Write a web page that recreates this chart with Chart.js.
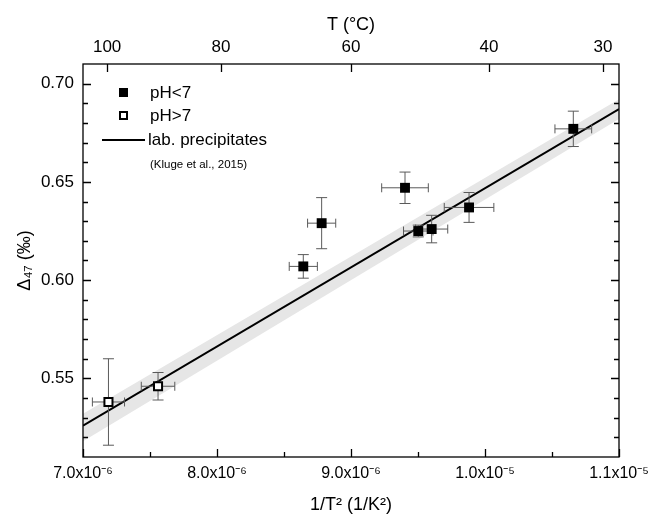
<!DOCTYPE html>
<html>
<head>
<meta charset="utf-8">
<script src="https://cdn.jsdelivr.net/npm/chart.js@4.4.1/dist/chart.umd.min.js"></script>
<style>
  html, body { margin: 0; padding: 0; background: #fff; }
  #wrap { width: 652px; height: 519px; }
</style>
</head>
<body>
<div id="wrap"><canvas id="chart"></canvas></div>
<script>
// samples with pH < 7 (filled squares)
const invT2Acid = [8.644e-6, 8.781e-6, 9.403e-6, 9.502e-6, 9.602e-6, 9.881e-6, 1.0659e-5];
const d47Acid   = [0.607, 0.629, 0.647, 0.625, 0.626, 0.637, 0.677];
const xErrAcid  = [1.05e-7, 1.05e-7, 1.74e-7, 1.1e-7, 1.2e-7, 1.85e-7, 1.37e-7];
const yErrAcid  = [0.006, 0.013, 0.008, 0.003, 0.007, 0.0076, 0.009];

// samples with pH > 7 (open squares)
const invT2Base = [7.19e-6, 7.56e-6];
const d47Base   = [0.538, 0.546];
const xErrBase  = [1.2e-7, 1.25e-7];
const yErrBase  = [0.022, 0.007];

// lab precipitates calibration (Kluge et al., 2015) and its band
const lineX     = [7.0e-6, 1.1e-5];
const lineY     = [0.526, 0.687];
const bandUpper = [0.532, 0.692];
const bandLower = [0.518, 0.682];

// axes
const xTicks = [7.0e-6, 8.0e-6, 9.0e-6, 1.0e-5, 1.1e-5];
const xTickLabels = ["7.0x10\u207B\u2076", "8.0x10\u207B\u2076", "9.0x10\u207B\u2076", "1.0x10\u207B\u2075", "1.1x10\u207B\u2075"];
const yTicks = [0.55, 0.60, 0.65, 0.70];
const topTicks = [7.18e-6, 8.03e-6, 9.0e-6, 1.003e-5, 1.088e-5];
const topTickLabels = ["100", "80", "60", "40", "30"];

const FONT = "'Liberation Sans', Arial, sans-serif";

const toPts = (xs, ys) => xs.map((x, i) => ({ x: x, y: ys[i] }));

// error bars go in after the line, before the squares
const errorBars = {
  id: "errorBars",
  afterDatasetDraw(chart, args) {
    if (args.index !== 2) return;
    const ctx = chart.ctx;
    const xs = chart.scales.x, ys = chart.scales.y;
    const groups = [
      [invT2Acid, d47Acid, xErrAcid, yErrAcid],
      [invT2Base, d47Base, xErrBase, yErrBase]
    ];
    ctx.save();
    ctx.strokeStyle = "#5a5a5a";
    ctx.lineWidth = 1;
    groups.forEach(([gx, gy, ex, ey]) => {
      gx.forEach((x, i) => {
        const px = xs.getPixelForValue(x), py = ys.getPixelForValue(gy[i]);
        const x0 = xs.getPixelForValue(x - ex[i]), x1 = xs.getPixelForValue(x + ex[i]);
        const y0 = ys.getPixelForValue(gy[i] + ey[i]), y1 = ys.getPixelForValue(gy[i] - ey[i]);
        ctx.beginPath();
        ctx.moveTo(x0, py); ctx.lineTo(x1, py);
        ctx.moveTo(x0, py - 4.5); ctx.lineTo(x0, py + 4.5);
        ctx.moveTo(x1, py - 4.5); ctx.lineTo(x1, py + 4.5);
        ctx.moveTo(px, y0); ctx.lineTo(px, y1);
        ctx.moveTo(px - 5.5, y0); ctx.lineTo(px + 5.5, y0);
        ctx.moveTo(px - 5.5, y1); ctx.lineTo(px + 5.5, y1);
        ctx.stroke();
      });
    });
    ctx.restore();
  }
};

// frame, inward ticks and the legend
const frame = {
  id: "frame",
  afterDraw(chart) {
    const ctx = chart.ctx;
    const a = chart.chartArea;
    const xs = chart.scales.x, ys = chart.scales.y;
    ctx.save();
    ctx.strokeStyle = "#000";
    ctx.lineWidth = 1.3;
    ctx.strokeRect(a.left, a.top, a.right - a.left, a.bottom - a.top);

    ctx.beginPath();
    for (let v = 0.52; v < 0.705; v += 0.01) {
      const major = yTicks.some(t => Math.abs(t - v) < 1e-6);
      const len = major ? 8 : 5;
      const py = Math.round(ys.getPixelForValue(v)) + 0.5;
      ctx.moveTo(a.left, py); ctx.lineTo(a.left + len, py);
      ctx.moveTo(a.right, py); ctx.lineTo(a.right - len, py);
    }
    for (let v = 7.5e-6; v < 1.1e-5; v += 1e-6) {
      const px = Math.round(xs.getPixelForValue(v)) + 0.5;
      ctx.moveTo(px, a.bottom); ctx.lineTo(px, a.bottom - 5);
    }
    xTicks.forEach(v => {
      const px = Math.round(xs.getPixelForValue(v)) + 0.5;
      ctx.moveTo(px, a.bottom); ctx.lineTo(px, a.bottom - 8);
    });
    topTicks.forEach(v => {
      const px = Math.round(xs.getPixelForValue(v)) + 0.5;
      ctx.moveTo(px, a.top); ctx.lineTo(px, a.top + 8);
    });
    ctx.stroke();

    // legend
    const lx = a.left, ly = a.top;
    ctx.fillStyle = "#000";
    ctx.fillRect(lx + 36, ly + 24, 9, 9);
    ctx.lineWidth = 2;
    ctx.strokeRect(lx + 37, ly + 48, 7, 7);
    ctx.beginPath();
    ctx.moveTo(lx + 19, ly + 76); ctx.lineTo(lx + 62, ly + 76);
    ctx.stroke();
    ctx.font = "17px " + FONT;
    ctx.textBaseline = "middle";
    ctx.textAlign = "left";
    ctx.fillText("pH<7", lx + 67, ly + 29);
    ctx.fillText("pH>7", lx + 67, ly + 52);
    ctx.fillText("lab. precipitates", lx + 65, ly + 76);
    ctx.font = "11.5px " + FONT;
    ctx.fillText("(Kluge et al., 2015)", lx + 67, ly + 101);
    ctx.restore();
  }
};

new Chart(document.getElementById("chart"), {
  type: "scatter",
  data: {
    datasets: [
      {
        label: "pH<7",
        data: toPts(invT2Acid, d47Acid),
        pointStyle: "rect",
        pointRadius: 7,
        backgroundColor: "#000",
        borderColor: "#000",
        borderWidth: 0
      },
      {
        label: "pH>7",
        data: toPts(invT2Base, d47Base),
        pointStyle: "rect",
        pointRadius: 5.7,
        backgroundColor: "#fff",
        borderColor: "#000",
        borderWidth: 2
      },
      {
        type: "line",
        label: "lab. precipitates",
        data: toPts(lineX, lineY),
        borderColor: "#000",
        borderWidth: 2,
        pointRadius: 0,
        fill: false
      },
      {
        type: "line",
        label: "band upper",
        data: toPts(lineX, bandUpper),
        borderWidth: 0,
        borderColor: "rgba(0,0,0,0)",
        pointRadius: 0,
        backgroundColor: "#e6e6e6",
        fill: "+1"
      },
      {
        type: "line",
        label: "band lower",
        data: toPts(lineX, bandLower),
        borderWidth: 0,
        borderColor: "rgba(0,0,0,0)",
        pointRadius: 0,
        fill: false
      }
    ]
  },
  options: {
    responsive: true,
    maintainAspectRatio: false,
    animation: false,
    layout: { padding: { left: 0, right: 33, top: 0, bottom: 0 } },
    plugins: {
      legend: { display: false },
      tooltip: { enabled: false }
    },
    scales: {
      x: {
        type: "linear",
        position: "bottom",
        min: 7.0e-6,
        max: 1.1e-5,
        afterBuildTicks: s => { s.ticks = xTicks.map(v => ({ value: v })); },
        afterFit: s => { s.height = 62; s.paddingLeft = 0; s.paddingRight = 0; },
        grid: { display: false, drawTicks: false },
        border: { display: false },
        ticks: {
          callback: (v, i) => xTickLabels[i],
          color: "#000",
          font: { size: 16, family: FONT },
          padding: 7,
          maxRotation: 0,
          autoSkip: false
        },
        title: {
          display: true,
          text: "1/T\u00B2 (1/K\u00B2)",
          color: "#000",
          font: { size: 18, family: FONT },
          padding: { top: 0, bottom: 3 }
        }
      },
      x2: {
        type: "linear",
        position: "top",
        min: 7.0e-6,
        max: 1.1e-5,
        afterBuildTicks: s => { s.ticks = topTicks.map(v => ({ value: v })); },
        afterFit: s => { s.height = 64; s.paddingLeft = 0; s.paddingRight = 0; },
        grid: { display: false, drawTicks: false },
        border: { display: false },
        ticks: {
          callback: (v, i) => topTickLabels[i],
          color: "#000",
          font: { size: 17, family: FONT },
          padding: 6,
          maxRotation: 0,
          autoSkip: false
        },
        title: {
          display: true,
          text: "T (\u00B0C)",
          color: "#000",
          font: { size: 18, family: FONT },
          padding: { top: 14, bottom: 0 }
        }
      },
      y: {
        type: "linear",
        min: 0.51,
        max: 0.71,
        afterBuildTicks: s => { s.ticks = yTicks.map(v => ({ value: v })); },
        afterFit: s => { s.width = 83; },
        grid: { display: false, drawTicks: false },
        border: { display: false },
        ticks: {
          callback: v => v.toFixed(2),
          color: "#000",
          font: { size: 17, family: FONT },
          padding: 9
        },
        title: {
          display: true,
          text: "\u0394\u2084\u2087 (\u2030)",
          color: "#000",
          font: { size: 18, family: FONT },
          padding: { top: 14, bottom: 6 }
        }
      }
    }
  },
  plugins: [errorBars, frame]
});
</script>
</body>
</html>
